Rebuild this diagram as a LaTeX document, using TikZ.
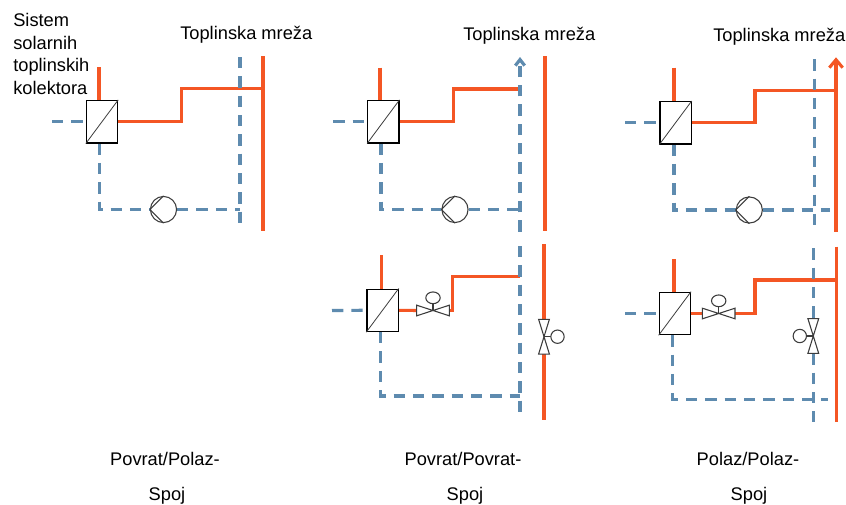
\documentclass[tikz,border=0pt]{standalone}
\usepackage{fontspec}
\setmainfont{Liberation Sans}
\usetikzlibrary{arrows.meta}
\definecolor{hotc}{RGB}{244,86,36}
\definecolor{coldc}{RGB}{94,139,175}
\definecolor{symc}{RGB}{60,60,60}
\pgfdeclarelayer{bbg}
\pgfdeclarelayer{bg}
\pgfsetlayers{bbg,bg,main}
\tikzset{
  pics/hvalve/.style={code={
    \draw[act] (-16.3,-5.3) -- (-16.3,5.3) -- (0,0) -- cycle;
    \draw[act] (16.3,-5.3) -- (16.3,5.3) -- (0,0) -- cycle;
    \draw[symline] (0,0) -- (0,-7);
    \draw[act] (0,-12.7) ellipse [x radius=5.4pt, y radius=4.4pt];
  }},
  pics/vvalve/.style={code={
    \draw[act] (-5.4,-17.4) -- (5.4,-17.4) -- (0,0) -- cycle;
    \draw[act] (-5.4,17.4) -- (5.4,17.4) -- (0,0) -- cycle;
    \draw[symline] (0,0) -- (#1*7,0);
    \draw[act] (#1*13.5,0) circle [radius=5pt];
  }},
}
\begin{document}
\begin{tikzpicture}[x=0.75pt,y=-0.75pt,
  hot/.style={draw=hotc,line width=2.3pt},
  cold/.style={draw=coldc,line width=2.4pt,dash pattern=on 8.5pt off 6pt},
  hx/.style={draw=black,fill=white,line width=0.9pt,minimum width=23.4pt,minimum height=31.8pt,inner sep=0pt},
  diag/.style={draw=symc,line width=0.6pt},
  pump/.style={circle,draw=symc,fill=white,line width=0.8pt,minimum size=19.6pt,inner sep=0pt},
  act/.style={draw=symc,fill=white,line width=0.8pt},
  symline/.style={draw=symc,line width=0.8pt},
  lbl/.style={font=\fontsize{13.7pt}{16pt}\selectfont,inner sep=0pt},
]
\begin{pgfonlayer}{bbg}
\fill[white] (0,0) rectangle (846,504);
\end{pgfonlayer}
\useasboundingbox (0,0) rectangle (846,504);

% ---------- texts ----------
\node[lbl,anchor=base west] (t1a) at (13,26.7) {Sistem};
\node[lbl,anchor=base west] (t1b) at (13,49.1) {solarnih};
\node[lbl,anchor=base west] (t1c) at (13,71.6) {toplinskih};
\node[lbl,anchor=base west] (t1d) at (13,94.1) {kolektora};
\node[lbl,anchor=base west] (tm1) at (180,39.5) {Toplinska mreža};
\node[lbl,anchor=base west] (tm2) at (463,40) {Toplinska mreža};
\node[lbl,anchor=base west] (tm3) at (713,41) {Toplinska mreža};
\node[lbl,anchor=base] (c1a) at (165,465.7) {Povrat/Polaz-};
\node[lbl,anchor=base] (c1b) at (167,500) {Spoj};
\node[lbl,anchor=base] (c2a) at (463,465.7) {Povrat/Povrat-};
\node[lbl,anchor=base] (c2b) at (465,500) {Spoj};
\node[lbl,anchor=base] (c3a) at (748,465.7) {Polaz/Polaz-};
\node[lbl,anchor=base] (c3b) at (749,500) {Spoj};

% ---------- panel 1 ----------
\node[hx] (hx1) at (102,121.7) {};
\draw[diag] (hx1.south west) -- (hx1.north east);
\node[pump] (p1) at (163.5,209.5) {};
\draw[symline] (p1.west) -- (p1.north) (p1.west) -- (p1.south);
\coordinate (s1) at (99,67);
\coordinate (w1) at (52,121.7);
\coordinate (k1) at (181.7,88.3);
\coordinate (j1) at (263,88.3);
\coordinate (n1t) at (263,56);
\coordinate (n1b) at (263,231);
\coordinate (m1t) at (240,57);
\coordinate (m1b) at (240,230);
\coordinate (b1) at (99.3,209.5);
\coordinate (r1) at (240,209.5);

% ---------- panel 2 top ----------
\node[hx] (hx2) at (383.3,121.7) {};
\draw[diag] (hx2.south west) -- (hx2.north east);
\node[pump] (p2) at (455,209.5) {};
\draw[symline] (p2.west) -- (p2.north) (p2.west) -- (p2.south);
\coordinate (s2) at (380,67.7);
\coordinate (w2) at (333.3,121.7);
\coordinate (k2) at (453.3,89);
\coordinate (j2) at (520,89);
\coordinate (n2t) at (545,56);
\coordinate (n2b) at (545,230.7);
\coordinate (m2t) at (520,57);
\coordinate (m2b) at (520,231.7);
\coordinate (b2) at (381,209.5);
\coordinate (r2) at (520,209.5);

% ---------- panel 2 bottom ----------
\node[hx] (hx3) at (382.5,310.3) {};
\draw[diag] (hx3.south west) -- (hx3.north east);
\coordinate (s3) at (381.7,255);
\coordinate (w3) at (332,310.5);
\coordinate (v1) at (433,310.5);
\coordinate (v1l) at (416.7,310.5);
\coordinate (v1r) at (449.3,310.5);
\coordinate (k3) at (452.7,276.7);
\coordinate (j3) at (520,276.7);
\coordinate (m3t) at (520,246);
\coordinate (m3b) at (520,418);
\coordinate (n3t) at (544,244);
\coordinate (v2) at (544,336.7);
\coordinate (v2t) at (544,319.3);
\coordinate (v2b) at (544,354.1);
\coordinate (n3b) at (544,420);
\coordinate (b3) at (380.3,396);
\coordinate (r3) at (520,396);
\pic at (v1) {hvalve};
\pic at (v2) {vvalve=1};

% ---------- panel 3 top ----------
\node[hx] (hx4) at (675.5,122.8) {};
\draw[diag] (hx4.south west) -- (hx4.north east);
\node[pump] (p4) at (749.3,210) {};
\draw[symline] (p4.west) -- (p4.north) (p4.west) -- (p4.south);
\coordinate (s4) at (674,67.7);
\coordinate (w4) at (625,122.8);
\coordinate (k4) at (755,90.7);
\coordinate (j4) at (836,90.7);
\coordinate (n4t) at (836,57.3);
\coordinate (n4b) at (836,231.7);
\coordinate (m4t) at (814.3,59.3);
\coordinate (m4b) at (814.3,230.7);
\coordinate (b4) at (674,210);
\coordinate (r4) at (830,210);

% ---------- panel 3 bottom ----------
\node[hx] (hx5) at (674.8,313.5) {};
\draw[diag] (hx5.south west) -- (hx5.north east);
\coordinate (s5) at (674,259.3);
\coordinate (w5) at (625,313.5);
\coordinate (v3) at (718.7,313.5);
\coordinate (v3l) at (702.4,313.5);
\coordinate (v3r) at (735,313.5);
\coordinate (k5) at (755,280);
\coordinate (j5) at (836.7,280);
\coordinate (n5t) at (836.7,246.7);
\coordinate (n5b) at (836.7,421.7);
\coordinate (m5t) at (813.3,248.3);
\coordinate (v4) at (813.3,336);
\coordinate (v4t) at (813.3,318.6);
\coordinate (v4b) at (813.3,353.4);
\coordinate (m5b) at (813.3,421.7);
\coordinate (b5) at (672.7,399.3);
\coordinate (r5) at (828.3,399.3);
\pic at (v3) {hvalve};
\pic at (v4) {vvalve=-1};

% ---------- pipes (behind symbols) ----------
\begin{pgfonlayer}{bg}
  % panel 1
  \draw[hot] (s1) -- (s1 |- hx1.north);
  \draw[cold] (w1) -- (hx1.west);
  \draw[hot] (hx1.east) -| (k1) -- (j1);
  \draw[hot] (n1t) -- (n1b);
  \draw[cold] (m1t) -- (m1b);
  \draw[cold] (b1 |- hx1.south) -- (b1) -- (p1.west);
  \draw[cold] (p1.east) -- (r1);
  % panel 2 top
  \draw[hot] (s2) -- (s2 |- hx2.north);
  \draw[cold] (w2) -- (hx2.west);
  \draw[hot] (hx2.east) -| (k2) -- (j2);
  \draw[hot] (n2t) -- (n2b);
  \draw[cold,-{Straight Barb[length=4.5pt,width=7pt]}] (m2b) -- (m2t);
  \draw[cold] (b2 |- hx2.south) -- (b2) -- (p2.west);
  \draw[cold] (p2.east) -- (r2);
  % panel 2 bottom
  \draw[hot] (s3) -- (s3 |- hx3.north);
  \draw[cold] (w3) -- (hx3.west);
  \draw[hot] (hx3.east) -- (v1l);
  \draw[hot] (v1r) -| (k3) -- (j3);
  \draw[cold] (m3t) -- (m3b);
  \draw[hot] (n3t) -- (v2t);
  \draw[hot] (v2b) -- (n3b);
  \draw[cold] (b3 |- hx3.south) -- (b3) -- (r3);
  % panel 3 top
  \draw[hot] (s4) -- (s4 |- hx4.north);
  \draw[cold] (w4) -- (hx4.west);
  \draw[hot] (hx4.east) -| (k4) -- (j4);
  \draw[hot,-{Straight Barb[length=6pt,width=10pt]}] (n4b) -- (n4t);
  \draw[cold] (m4t) -- (m4b);
  \draw[cold] (b4 |- hx4.south) -- (b4) -- (p4.west);
  \draw[cold] (p4.east) -- (r4);
  % panel 3 bottom
  \draw[hot] (s5) -- (s5 |- hx5.north);
  \draw[cold] (w5) -- (hx5.west);
  \draw[hot] (hx5.east) -- (v3l);
  \draw[hot] (v3r) -| (k5) -- (j5);
  \draw[hot] (n5t) -- (n5b);
  \draw[cold] (m5t) -- (v4t);
  \draw[cold] (v4b) -- (m5b);
  \draw[cold] (b5 |- hx5.south) -- (b5) -- (r5);
\end{pgfonlayer}
\end{tikzpicture}
\end{document}
